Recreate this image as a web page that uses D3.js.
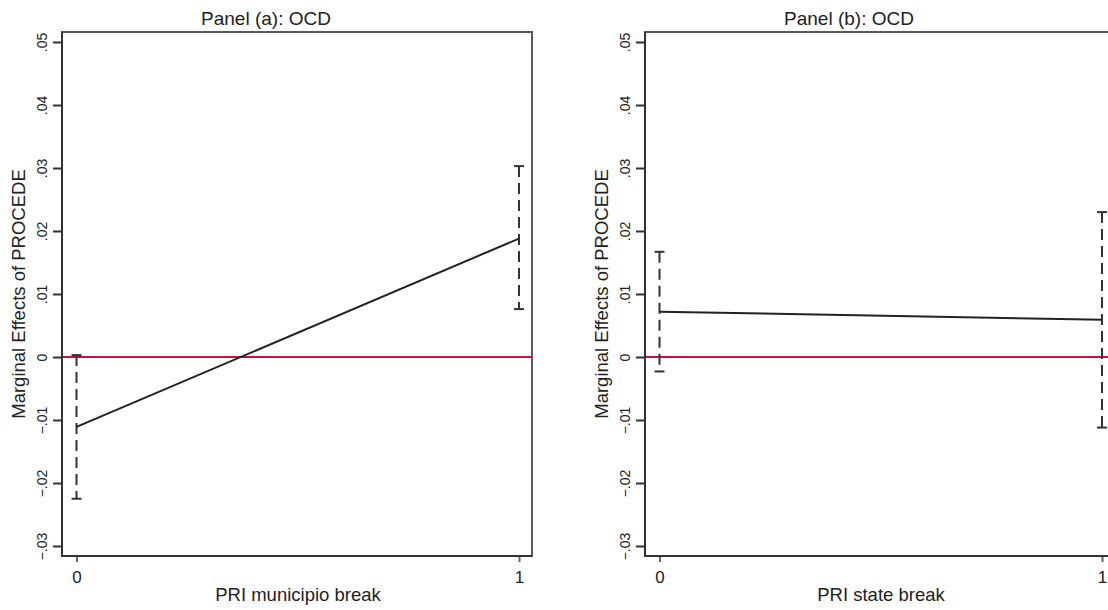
<!DOCTYPE html>
<html>
  <head>
    <meta charset="UTF-8">
    <title>Marginal Effects of PROCEDE</title>
    <style type="text/css">
      body { margin: 0; background: #fff; }
      svg text { font-family: "Liberation Sans", Arial, sans-serif; fill: #222; }
    </style>
  </head>
  <body>
    <script src="https://cdn.jsdelivr.net/npm/d3@7"></script>
    <script>

      // Data
      var panelTitles = ["Panel (a): OCD", "Panel (b): OCD"];
      var xTitles = ["PRI municipio break", "PRI state break"];
      var breakValues = [0, 1];
      var yTicks = [-0.03, -0.02, -0.01, 0, 0.01, 0.02, 0.03, 0.04, 0.05];

      var effectA = [-0.0111, 0.0188];
      var lowerA  = [-0.0225, 0.0076];
      var upperA  = [0.0003, 0.0303];

      var effectB = [0.0072, 0.0059];
      var lowerB  = [-0.0023, -0.0112];
      var upperB  = [0.0167, 0.0230];

      // Layout
      var svgWidth = 1108, svgHeight = 610,
          panelOffset = 583,
          frame = {left: 62, right: 532, top: 32, bottom: 556};

      var svg = d3.select("body")
                  .append("svg")
                  .attr("width", svgWidth)
                  .attr("height", svgHeight);

      var xScale = d3.scaleLinear()
                     .domain([0, 1])
                     .range([76.5, 519]);

      var yScale = d3.scaleLinear()
                     .domain([-0.03, 0.05])
                     .range([546, 42]);

      var fmt = function(d) {
        if (d === 0) return "0";
        return d3.format(".2f")(d).replace("0.", ".");
      };

      var panels = [
        {title: panelTitles[0], xTitle: xTitles[0], eff: effectA, lo: lowerA, hi: upperA},
        {title: panelTitles[1], xTitle: xTitles[1], eff: effectB, lo: lowerB, hi: upperB}
      ];

      panels.forEach(function(p, i) {
        var g = svg.append("g")
                   .attr("transform", "translate(" + (i * panelOffset) + ",0)");

        // plot frame
        g.append("rect")
         .attr("x", frame.left)
         .attr("y", frame.top)
         .attr("width", frame.right - frame.left)
         .attr("height", frame.bottom - frame.top)
         .attr("fill", "none")
         .attr("stroke", "#5a5a5a")
         .attr("stroke-width", 2);

        // y axis
        var yAxis = d3.axisLeft(yScale)
                      .tickValues(yTicks)
                      .tickFormat(fmt)
                      .tickSize(9)
                      .tickSizeOuter(0);

        var gy = g.append("g")
                  .attr("transform", "translate(" + frame.left + ",0)")
                  .call(yAxis);
        gy.select(".domain").remove();
        gy.selectAll(".tick line").attr("stroke", "#333").attr("stroke-width", 2);
        gy.selectAll(".tick text")
          .attr("transform", "rotate(-90)")
          .attr("x", 0)
          .attr("y", -15)
          .attr("dy", 0)
          .attr("text-anchor", "middle")
          .style("font-size", "14px")
          .style("font-family", "'Liberation Sans', Arial, sans-serif")
          .attr("fill", "#222");

        // x axis
        var xAxis = d3.axisBottom(xScale)
                      .tickValues(breakValues)
                      .tickFormat(d3.format("d"))
                      .tickSize(6)
                      .tickSizeOuter(0);

        var gx = g.append("g")
                  .attr("transform", "translate(0," + frame.bottom + ")")
                  .call(xAxis);
        gx.select(".domain").remove();
        gx.selectAll(".tick line").attr("stroke", "#666").attr("stroke-width", 2);
        gx.selectAll(".tick text")
          .attr("y", 27)
          .attr("dy", 0)
          .style("font-size", "17px")
          .style("font-family", "'Liberation Sans', Arial, sans-serif")
          .attr("fill", "#222");

        // axis lines (darker left and bottom)
        g.append("line")
         .attr("x1", frame.left).attr("x2", frame.left)
         .attr("y1", frame.top).attr("y2", frame.bottom + 1)
         .attr("stroke", "#333").attr("stroke-width", 2);
        g.append("line")
         .attr("x1", frame.left - 1).attr("x2", frame.right)
         .attr("y1", frame.bottom).attr("y2", frame.bottom)
         .attr("stroke", "#333").attr("stroke-width", 2);

        // zero reference line
        g.append("line")
         .attr("x1", frame.left + 1).attr("x2", frame.right - 1)
         .attr("y1", yScale(0)).attr("y2", yScale(0))
         .attr("stroke", "#c8103c")
         .attr("stroke-width", 2);

        // confidence intervals
        breakValues.forEach(function(b, j) {
          var cx = xScale(b);
          g.append("line")
           .attr("x1", cx).attr("x2", cx)
           .attr("y1", yScale(p.hi[j])).attr("y2", yScale(p.lo[j]))
           .attr("stroke", "#333")
           .attr("stroke-width", 2)
           .attr("stroke-dasharray", "11,6");
          [p.hi[j], p.lo[j]].forEach(function(v) {
            g.append("line")
             .attr("x1", cx - 5).attr("x2", cx + 5)
             .attr("y1", yScale(v)).attr("y2", yScale(v))
             .attr("stroke", "#333")
             .attr("stroke-width", 2);
          });
        });

        // marginal effect line
        var line = d3.line()
                     .x(function(d, j) { return xScale(breakValues[j]); })
                     .y(function(d) { return yScale(d); });
        g.append("path")
         .datum(p.eff)
         .attr("d", line)
         .attr("fill", "none")
         .attr("stroke", "#222")
         .attr("stroke-width", 2);

        // titles
        g.append("text")
         .attr("x", 266)
         .attr("y", 25)
         .attr("text-anchor", "middle")
         .style("font-size", "19px")
         .text(p.title);

        g.append("text")
         .attr("x", (frame.left + frame.right) / 2 + 1)
         .attr("y", 601)
         .attr("text-anchor", "middle")
         .style("font-size", "18.5px")
         .text(p.xTitle);

        g.append("text")
         .attr("transform", "translate(25," + ((frame.top + frame.bottom) / 2) + ") rotate(-90)")
         .attr("text-anchor", "middle")
         .style("font-size", "18.5px")
         .text("Marginal Effects of PROCEDE");
      });

    </script>
  </body>
</html>
